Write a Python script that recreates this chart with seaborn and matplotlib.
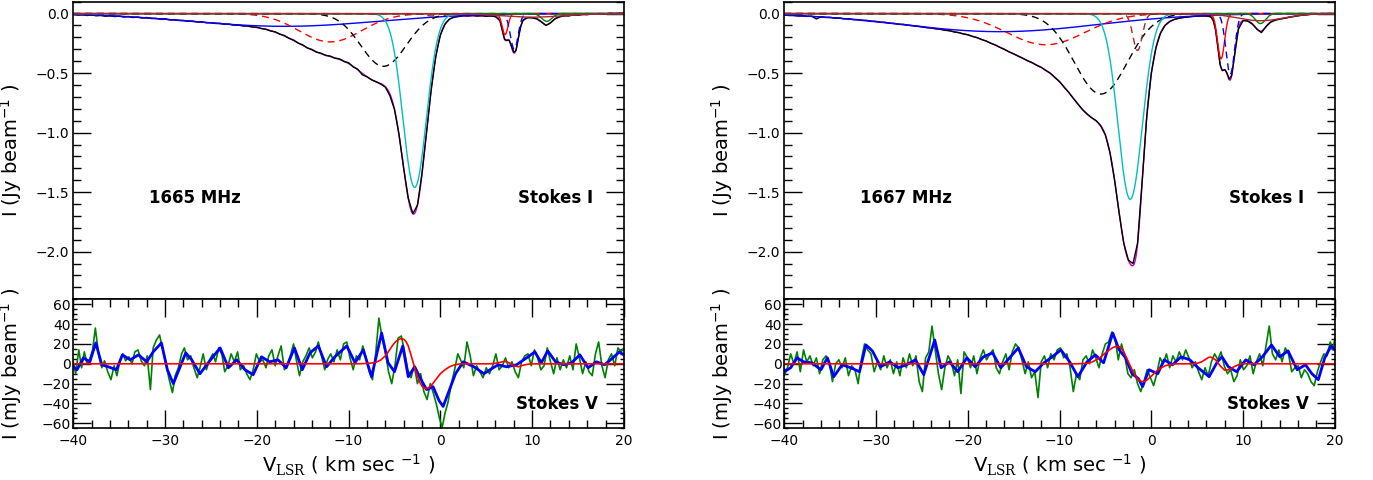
import numpy as np
import seaborn as sns
import matplotlib.pyplot as plt
from matplotlib.ticker import MultipleLocator

# ---------------- Stokes I : observed spectra (Jy/beam) ----------------
vel_i = [-40, -39.5, -39, -38.5, -38, -37.5, -37, -36.5, -36, -35.5, -35, -34.5, -34, -33.5,
         -33, -32.5, -32, -31.5, -31, -30.5, -30, -29.5, -29, -28.5, -28, -27.5, -27, -26.5,
         -26, -25.5, -25, -24.5, -24, -23.5, -23, -22.5, -22, -21.5, -21, -20.5, -20, -19.5,
         -19, -18.5, -18, -17.5, -17, -16.5, -16, -15.5, -15, -14.5, -14, -13.5, -13, -12.5,
         -12, -11.5, -11, -10.5, -10, -9.5, -9, -8.5, -8, -7.5, -7, -6.5, -6, -5.5, -5, -4.5,
         -4, -3.5, -3, -2.5, -2, -1.5, -1, -0.5, 0, 0.5, 1, 1.5, 2, 2.5, 3, 3.5, 4, 4.5, 5,
         5.5, 6, 6.5, 6.75, 7, 7.25, 7.5, 7.75, 8, 8.25, 8.5, 8.75, 9, 9.5, 10, 10.5, 11,
         11.5, 12, 12.5, 13, 13.5, 14, 14.5, 15, 15.5, 16, 16.5, 17, 17.5, 18, 18.5, 19,
         19.5, 20]

obs_i_1665 = [-0.005, -0.012, -0.008, -0.016, -0.011, -0.019, -0.014, -0.022, -0.017, -0.025,
              -0.021, -0.029, -0.024, -0.033, -0.029, -0.037, -0.033, -0.042, -0.040, -0.047,
              -0.044, -0.053, -0.051, -0.058, -0.057, -0.064, -0.063, -0.070, -0.069, -0.077,
              -0.076, -0.083, -0.082, -0.090, -0.089, -0.097, -0.096, -0.104, -0.104, -0.113,
              -0.114, -0.126, -0.131, -0.146, -0.153, -0.173, -0.184, -0.208, -0.222, -0.248,
              -0.263, -0.289, -0.301, -0.324, -0.333, -0.352, -0.357, -0.375, -0.380, -0.403,
              -0.413, -0.448, -0.468, -0.515, -0.530, -0.556, -0.573, -0.592, -0.618, -0.690,
              -0.805, -1.02, -1.30, -1.55, -1.68, -1.61, -1.34, -0.99, -0.64, -0.36, -0.18,
              -0.09, -0.046, -0.030, -0.024, -0.016, -0.020, -0.015, -0.021, -0.017, -0.023,
              -0.019, -0.026, -0.060, -0.140, -0.215, -0.225, -0.225, -0.275, -0.325, -0.310,
              -0.205, -0.110, -0.058, -0.034, -0.036, -0.045, -0.070, -0.100, -0.078, -0.045,
              -0.028, -0.018, -0.020, -0.010, -0.014, -0.006, -0.009, -0.003, -0.006, 0.000,
              -0.002, 0.004, 0.001, 0.005, 0.003]

obs_i_1667 = [-0.010, -0.016, -0.014, -0.020, -0.018, -0.024, -0.022, -0.045, -0.027, -0.033,
              -0.031, -0.038, -0.037, -0.044, -0.043, -0.051, -0.050, -0.058, -0.057, -0.066,
              -0.065, -0.074, -0.073, -0.082, -0.082, -0.091, -0.090, -0.098, -0.101, -0.106,
              -0.111, -0.118, -0.120, -0.128, -0.131, -0.140, -0.143, -0.154, -0.159, -0.171,
              -0.177, -0.192, -0.201, -0.218, -0.230, -0.249, -0.263, -0.283, -0.300, -0.322,
              -0.338, -0.357, -0.375, -0.396, -0.411, -0.434, -0.451, -0.478, -0.501, -0.538,
              -0.571, -0.619, -0.661, -0.712, -0.760, -0.806, -0.843, -0.875, -0.900, -0.945,
              -1.02, -1.17, -1.40, -1.68, -1.93, -2.07, -2.10, -1.93, -1.41, -0.87, -0.50,
              -0.29, -0.165, -0.100, -0.068, -0.050, -0.040, -0.033, -0.029, -0.024, -0.022,
              -0.020, -0.021, -0.028, -0.060, -0.135, -0.280, -0.430, -0.480, -0.470, -0.500,
              -0.550, -0.520, -0.390, -0.130, -0.060, -0.063, -0.088, -0.130, -0.160, -0.110,
              -0.073, -0.056, -0.046, -0.040, -0.031, -0.025, -0.018, -0.013, -0.010, -0.004,
              -0.005, 0.001, -0.002, 0.003, -0.001]

# ---------------- Stokes I : Gaussian components (centre, depth, FWHM) ----------------
comp_center_1665 = [-17.0, -12.0, -6.2, -2.8, -1.0, 7.05, 8.05, 11.6, 10.0]
comp_depth_1665 = [-0.107, -0.238, -0.443, -1.46, -0.02, -0.177, -0.30, -0.065, -0.03]
comp_fwhm_1665 = [24.0, 8.0, 5.8, 3.0, 1.5, 0.75, 1.0, 1.3, 8.0]

comp_center_1667 = [-16.5, -11.5, -5.5, -2.3, -1.5, 7.6, 8.6, 11.9, 11.9]
comp_depth_1667 = [-0.152, -0.262, -0.676, -1.56, -0.31, -0.38, -0.51, -0.084, -0.06]
comp_fwhm_1667 = [25.0, 10.0, 6.8, 3.1, 1.2, 0.9, 1.1, 1.3, 6.0]

comp_styles = [("#0000ff", "-"), ("#ff0000", "--"), ("#000000", "--"), ("#00bfbf", "-"),
               ("#a52a2a", "--"), ("#ff0000", "-"), ("#0000ff", "--"), ("#008000", "-"),
               ("#a52a2a", "-")]

# ---------------- Stokes V (mJy/beam) ----------------
vel_green_1665 = [-40, -39.75, -39.4, -39.1, -38.8, -38.5, -38.2, -37.9, -37.6, -37.25, -36.9,
                  -36.6, -36.25, -35.9, -35.55, -35.25, -34.9, -34.6, -34.3, -33.95, -33.6,
                  -33.3, -32.95, -32.6, -32.25, -31.95, -31.6, -31.3, -30.95, -30.6, -30.25,
                  -29.9, -29.6, -29.2, -28.9, -28.55, -28.2, -27.9, -27.55, -27.2, -26.9, -26.5,
                  -26.2, -25.85, -25.5, -25.15, -24.8, -24.5, -24.15, -23.8, -23.5, -23.15, -22.8,
                  -22.45, -22.1, -21.8, -21.45, -21.1, -20.75, -20.4, -20.05, -19.7, -19.35, -19.0,
                  -18.7, -18.35, -18.0, -17.7, -17.35, -17.0, -16.7, -16.35, -16.0, -15.7, -15.35,
                  -15.0, -14.65, -14.3, -13.95, -13.6, -13.3, -12.95, -12.6, -12.3, -11.95, -11.6,
                  -11.25, -10.9, -10.55, -10.2, -9.85, -9.5, -9.15, -8.8, -8.45, -8.1, -7.75, -7.4,
                  -7.05, -6.7, -6.35, -6.0, -5.65, -5.3, -4.95, -4.6, -4.25, -3.9, -3.55, -3.2,
                  -2.85, -2.5, -2.15, -1.8, -1.45, -1.1, -0.75, -0.4, -0.1, 0.2, 0.5, 0.85, 1.2,
                  1.55, 1.9, 2.2, 2.55, 2.9, 3.25, 3.6, 3.95, 4.3, 4.65, 5.0, 5.35, 5.7, 6.05, 6.4,
                  6.75, 7.1, 7.45, 7.8, 8.15, 8.5, 8.85, 9.2, 9.55, 9.9, 10.25, 10.6, 10.95, 11.3,
                  11.65, 12.0, 12.35, 12.7, 13.05, 13.4, 13.75, 14.1, 14.45, 14.8, 15.15, 15.5,
                  15.85, 16.2, 16.55, 16.9, 17.25, 17.6, 17.95, 18.3, 18.65, 19.0, 19.35, 19.7, 20.0]
green_1665 = [2, -10, 14, -4, 12, 0, 5, 14, 36, 10, -4,
              3, -8, -16, -2, -12, 4, 10, 3, 7, 0,
              12, 14, 3, -2, 8, -26, 16, 24, 29, 14,
              0, -14, -29, -12, -4, 10, 16, 4, 8, -3, -14,
              -4, 10, -6, 4, 10, 2, 16, 9, -8, -2, 10,
              2, 12, -6, -2, -10, -16, -6, 10, 2, 4, -4,
              8, 14, -2, 8, 18, -6, -2, 8, 20, 4, -12,
              2, 8, 16, 6, 12, 22, 8, -6, 4, 10, 2,
              14, 4, 20, 22, 6, -6, 8, 4, 18, 6, -8, -16,
              10, 46, 26, 12, -8, -20, -2, 26, 28, 12, -6, -14,
              -2, -20, -10, -28, -36, -20, -30, -42, -55, -64, -50, -38, -20,
              -6, 10, 4, -4, 22, 8, -12, -2, -8, -14, -4, -10, -2, 10, -6,
              -2, 6, -4, 2, -8, -14, 2, 8, 10, -2, 14, 6, -6, -2,
              16, 2, -10, 6, -6, 4, -4, 8, -6, 20, 6, -10,
              2, -8, -12, 10, 22, -2, -14, 4, 10, -2, 16, 12, 16]

vel_blue_1665 = [-40, -39.6, -38.9, -38.2, -37.55, -36.9, -36.2, -35.3, -34.65, -33.8, -32.9, -32,
                 -31.3, -30.4, -29.75, -29.1, -28.4, -27.75, -27.1, -26.2, -25.3, -24, -23.1,
                 -22.2, -21.3, -20.4, -19.5, -18.6, -17.7, -16.8, -15.9, -15.05, -14.2, -13.3,
                 -12.4, -11.5, -10.2, -9.3, -8.4, -7.5, -6.4, -5.7, -5.0, -4.1, -3.5, -2.8, -2.1,
                 -1.5, -0.8, -0.15, 0.3, 1.0, 1.65, 2.5, 3.65, 4.75, 5.4, 6.3, 7.2, 8.3, 9.4,
                 10.3, 11.0, 11.7, 12.55, 13.45, 14.3, 15.2, 16.1, 17.0, 17.9, 18.8, 19.5, 20]
blue_1665 = [-3, -6, 6, 2, 21, -1, -3, -6, 9, 4, 9, 2,
             12, 21, -6, -20, -4, 11, 4, -10, 1, 16, -4,
             4, -6, -11, 7, 2, 4, -4, 16, -6, 11, 18,
             -3, 7, 18, 1, 14, -13, 31, 1, -8, 18, -13, -3, -16,
             -26, -23, -37, -43, -26, -10, 2, -3, -10, -6, -1, -3, -1, 6,
             12, 1, 13, 2, -1, 1, 9, -4, 2, -1, 6, 12, 9]

vel_model_1665 = [-40, -9, -8, -7.5, -7, -6.5, -6, -5.75, -5.5, -5.25, -5, -4.75, -4.5, -4.25,
                  -4, -3.75, -3.5, -3.25, -3, -2.75, -2.5, -2.25, -2, -1.75, -1.5, -1.25, -1,
                  -0.5, 0, 0.5, 1, 1.5, 2, 2.5, 3, 5.5, 6, 6.5, 7, 7.5, 8, 8.5, 9, 9.5, 10, 20]
model_1665 = [0, 0, 0.3, 0.7, 1.6, 3.8, 8, 11, 14.5, 18, 21, 23.3, 24.7, 25.2,
              24.8, 22.5, 18, 10.5, 2.5, -5.5, -12.5, -18.5, -22.5, -24.5, -25, -24, -22,
              -16, -10, -6, -3, -1.2, -0.3, 0, 0, 0, 0.5, 1.5, 2.5, 1.0, -2, -3, -1.5, -0.5, -0.1, 0]

vel_green_1667 = [-40, -39.65, -39.3, -38.95, -38.6, -38.25, -37.9, -37.55, -37.2, -36.85, -36.5,
                  -36.15, -35.8, -35.45, -35.1, -34.75, -34.4, -34.05, -33.7, -33.35, -33.0,
                  -32.65, -32.3, -31.95, -31.6, -31.25, -30.9, -30.55, -30.2, -29.85, -29.5,
                  -29.15, -28.8, -28.45, -28.1, -27.75, -27.4, -27.05, -26.7, -26.35, -26.0,
                  -25.65, -25.3, -24.95, -24.6, -24.25, -23.9, -23.55, -23.2, -22.85, -22.5,
                  -22.15, -21.8, -21.45, -21.1, -20.75, -20.4, -20.05, -19.7, -19.35, -19.0,
                  -18.65, -18.3, -17.95, -17.6, -17.25, -16.9, -16.55, -16.2, -15.85, -15.5,
                  -15.15, -14.8, -14.45, -14.1, -13.75, -13.4, -13.05, -12.7, -12.35, -12.0,
                  -11.65, -11.3, -10.95, -10.6, -10.25, -9.9, -9.55, -9.2, -8.85, -8.5, -8.15,
                  -7.8, -7.45, -7.1, -6.75, -6.4, -6.05, -5.7, -5.35, -5.0, -4.65, -4.3, -3.95,
                  -3.6, -3.25, -2.9, -2.55, -2.2, -1.85, -1.5, -1.15, -0.8, -0.45, -0.1, 0.25,
                  0.6, 0.95, 1.3, 1.65, 2.0, 2.35, 2.7, 3.05, 3.4, 3.75, 4.1, 4.45, 4.8, 5.15,
                  5.5, 5.85, 6.2, 6.55, 6.9, 7.25, 7.6, 7.95, 8.3, 8.65, 9.0, 9.35, 9.7, 10.05,
                  10.4, 10.75, 11.1, 11.45, 11.8, 12.15, 12.5, 12.85, 13.2, 13.55, 13.9, 14.25,
                  14.6, 14.95, 15.3, 15.65, 16.0, 16.35, 16.7, 17.05, 17.4, 17.75, 18.1, 18.45,
                  18.8, 19.15, 19.5, 19.8, 20.0]
green_1667 = [-12, -4, 10, 0, 12, -8, 14, 2, 8, -2, 6,
              -10, 4, 8, 2, -18, 0, 4, -4, 6, -12,
              -2, -6, -20, 4, 20, 14, 10, -8, 2, -6,
              8, -4, 4, -10, 2, -12, 6, -4, 10, -2,
              8, -18, -28, 6, 12, 38, 14, -10, -26, -4,
              8, 2, -12, 4, -30, 12, 6, -4, 8, -10,
              6, 14, 4, 10, 14, -4, -10, 2, 10, -6,
              12, 20, 16, 4, -10, 2, -14, -8, -34, 2,
              8, -4, 10, 4, 14, 16, 6, 10, -4, -28, -10,
              -16, 4, 8, 0, 14, 6, -4, 10, 20, 22, 32, 26,
              4, 20, 8, -10, -14, -6, -20, -28, -18, -6, -14, -22,
              -10, 6, 0, 10, -4, 8, 2, 12, 4, 14, 6, -4, 2, -8,
              -16, -4, -12, 2, 10, 4, 12, -2, -10, -6, -18, -12, 4, -6,
              -2, 8, -10, 2, 10, -2, 18, 38, 10, 4, 14, 2,
              16, 10, -8, -4, -2, -14, -6, -10, -18, -22, -8, 2,
              10, 8, 22, 14, 26]

vel_blue_1667 = [-40, -39.3, -38.6, -37.9, -37, -36.0, -35.3, -34.6, -33.7, -32.75, -31.8, -31.1,
                 -30.4, -29.5, -28.5, -27.6, -26.7, -25.7, -24.8, -23.6, -22.9, -22.0, -21.1,
                 -20.1, -19.2, -18.3, -17.3, -16.4, -15.45, -14.5, -13.6, -12.65, -11.7, -10.8,
                 -9.85, -8.9, -8.0, -7.0, -6.1, -5.2, -4.2, -3.5, -2.8, -2.1, -1.4, -0.95, -0.25,
                 0.7, 1.4, 2.3, 3.25, 4.2, 5.1, 6.3, 7.2, 7.7, 8.4, 9.3, 10.3, 11.2, 12.1, 13.1,
                 14.0, 14.9, 15.9, 16.8, 17.5, 18.2, 18.9, 19.6, 20]
blue_1667 = [-8, -4, 6, 2, 1, -6, 6, -13, -1, -4, -8, 19,
             13, -3, 2, -4, -1, 4, -11, 24, -4, 2, -8,
             6, -3, 7, 11, -4, 6, 16, -3, -8, 1, 7,
             14, 2, -13, 2, 9, 1, 31, 14, 6, -10, -15, -23, -6,
             -10, 4, -1, 7, 4, -4, -13, 2, 7, -3, -8, 4, -1, 7, 19,
             7, 13, -6, -1, -10, -16, 6, 18, 14]

vel_model_1667 = [-40, -8, -7, -6.5, -6, -5.5, -5, -4.5, -4.25, -4, -3.75, -3.5, -3.25, -3, -2.75,
                  -2.5, -2.25, -2, -1.75, -1.5, -1.25, -1, -0.75, -0.5, 0, 0.5, 1, 1.5, 2, 2.5,
                  3, 4.5, 5, 5.5, 6, 6.25, 6.5, 7, 7.5, 8, 8.5, 9, 9.5, 10, 20]
model_1667 = [0, 0, 0.5, 1.5, 4, 7, 11, 14.5, 16, 17, 17.6, 17.4, 15.5, 12, 7,
              2, -3, -8, -12, -15, -17, -18, -17.8, -16.5, -12.5, -8, -4.5, -2, -0.8, -0.2,
              0, 0, 0.5, 2, 5, 6.5, 6.8, 4, -2, -6.5, -6, -3, -1, 0, 0]

freq_labels = ["1665 MHz", "1667 MHz"]

# ---------------- figure ----------------
sns.set_theme(style="ticks")
plt.rcParams["font.family"] = ["DejaVu Sans"]
plt.rcParams["text.color"] = "black"
plt.rcParams["axes.labelcolor"] = "black"
plt.rcParams["xtick.color"] = "black"
plt.rcParams["ytick.color"] = "black"
plt.rcParams["mathtext.fontset"] = "custom"
plt.rcParams["mathtext.rm"] = "DejaVu Serif"
plt.rcParams["mathtext.sf"] = "DejaVu Sans"
plt.rcParams["mathtext.it"] = "DejaVu Sans:italic"

fig = plt.figure(figsize=(13.73, 4.8), dpi=100)
fig.patch.set_facecolor("white")

vgrid = np.linspace(-40, 20, 2401)


def gauss(c, a, w):
    return a * np.exp(-4 * np.log(2) * ((vgrid - c) / w) ** 2)


def style_axes(ax):
    for sp in ax.spines.values():
        sp.set_visible(True)
        sp.set_color("black")
        sp.set_linewidth(1.2)
    ax.set_facecolor("white")


def panel(left, centers, depths, fwhms, obs, vg, g, vb, b, vm, m, label):
    ax_i = fig.add_axes([left, 0.3765, 0.401, 0.620])
    ax_v = fig.add_axes([left, 0.1077, 0.401, 0.2688])
    style_axes(ax_i)
    style_axes(ax_v)

    # Stokes I: total fit, observed spectrum, then the components
    comps = [gauss(c, a, w) for c, a, w in zip(centers, depths, fwhms)]
    sns.lineplot(x=vgrid, y=np.sum(comps, axis=0), ax=ax_i, color="#bf00bf", lw=1.0, estimator=None)
    sns.lineplot(x=vel_i, y=obs, ax=ax_i, color="black", lw=1.0, estimator=None)
    for comp, (col, ls) in zip(comps, comp_styles):
        dash = (0, (5, 3.5)) if ls == "--" else "-"
        sns.lineplot(x=vgrid, y=comp, ax=ax_i, color=col, linestyle=dash, lw=1.0, estimator=None)
    ax_i.set_xlim(-40, 20)
    ax_i.set_ylim(-2.4, 0.1)
    ax_i.yaxis.set_major_locator(MultipleLocator(0.5))
    ax_i.yaxis.set_minor_locator(MultipleLocator(0.1))
    ax_i.tick_params(axis="x", which="both", bottom=False, top=False, labelbottom=False)
    ax_i.tick_params(axis="y", which="both", direction="in", left=True, right=True,
                     labelsize=10, width=1.0, pad=3, colors="black")
    ax_i.tick_params(axis="y", which="major", length=13)
    ax_i.tick_params(axis="y", which="minor", length=6)
    ax_i.set_ylabel(r"I (Jy beam$^{\mathsf{-1}}$ )", fontsize=14, color="black")
    ax_i.yaxis.set_label_coords(-0.09, 0.5)
    ax_i.text(-26.7, -1.55, label, fontsize=12, fontweight="bold", ha="center", va="center",
              color="black")
    ax_i.text(16.6, -1.55, "Stokes I", fontsize=12, fontweight="bold", ha="right", va="center",
              color="black")

    # Stokes V: raw, smoothed, model
    sns.lineplot(x=vg, y=g, ax=ax_v, color="#008000", lw=1.2, estimator=None)
    sns.lineplot(x=vb, y=b, ax=ax_v, color="#0000ff", lw=2.0, estimator=None)
    sns.lineplot(x=vm, y=m, ax=ax_v, color="#ff0000", lw=1.2, estimator=None)
    ax_v.set_xlim(-40, 20)
    ax_v.set_ylim(-65, 65)
    ax_v.xaxis.set_major_locator(MultipleLocator(10))
    ax_v.xaxis.set_minor_locator(MultipleLocator(2))
    ax_v.yaxis.set_major_locator(MultipleLocator(20))
    ax_v.yaxis.set_minor_locator(MultipleLocator(5))
    ax_v.tick_params(axis="both", which="both", direction="in", bottom=True, top=True,
                     left=True, right=True, labelsize=10, width=1.0, colors="black")
    ax_v.tick_params(axis="x", which="major", length=13, pad=4)
    ax_v.tick_params(axis="x", which="minor", length=6)
    ax_v.tick_params(axis="y", which="major", length=13, pad=2)
    ax_v.tick_params(axis="y", which="minor", length=3)
    ax_v.set_ylabel(r"I (mJy beam$^{\mathsf{-1}}$ )", fontsize=14, color="black")
    ax_v.yaxis.set_label_coords(-0.09, 0.5)
    ax_v.set_xlabel(r"V$_{\mathrm{LSR}}$ ( km sec $^{\mathsf{-1}}$ )", fontsize=14, color="black")
    ax_v.xaxis.set_label_coords(0.5, -0.19)
    ax_v.text(17.2, -41, "Stokes V", fontsize=12, fontweight="bold", ha="right", va="center",
              color="black")


panel(0.0534, comp_center_1665, comp_depth_1665, comp_fwhm_1665, obs_i_1665,
      vel_green_1665, green_1665, vel_blue_1665, blue_1665, vel_model_1665, model_1665,
      freq_labels[0])
panel(0.5712, comp_center_1667, comp_depth_1667, comp_fwhm_1667, obs_i_1667,
      vel_green_1667, green_1667, vel_blue_1667, blue_1667, vel_model_1667, model_1667,
      freq_labels[1])

fig.savefig("out.png", dpi=100, facecolor="white")
